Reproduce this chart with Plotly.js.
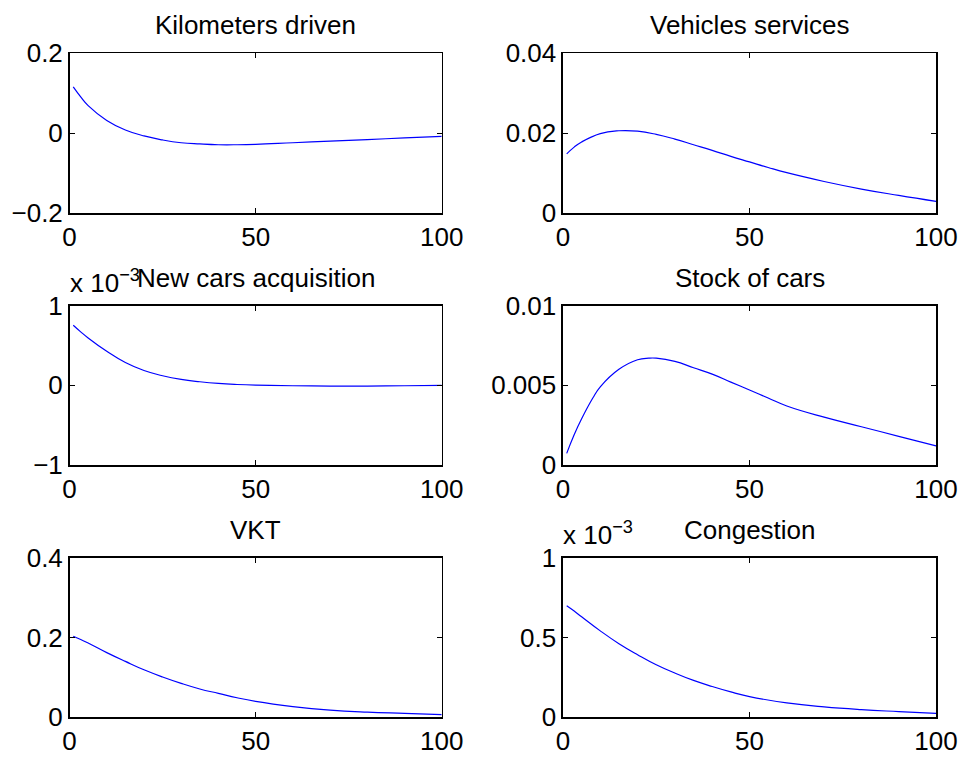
<!DOCTYPE html>
<html>
<head>
<meta charset="utf-8">
<script src="https://cdn.plot.ly/plotly-3.0.1.min.js"></script>
<style>html,body{margin:0;padding:0;background:#fff;}#chart{width:963px;height:757px;}</style>
</head>
<body>
<div id="chart"></div>
<script>
// ---- data ----
const titles = ["Kilometers driven", "Vehicles services", "New cars acquisition", "Stock of cars", "VKT", "Congestion"];

const kmX = [1, 3, 5, 10, 15, 20, 25, 30, 35, 40, 45, 50, 60, 70, 80, 90, 100];
const kmY = [0.116, 0.091, 0.069, 0.032, 0.008, -0.007, -0.017, -0.024, -0.027, -0.029, -0.029, -0.028, -0.024, -0.020, -0.016, -0.012, -0.008];

const vsX = [1, 3, 5, 10, 15, 20, 25, 30, 35, 40, 45, 50, 55, 60, 70, 80, 90, 100];
const vsY = [0.0148, 0.0165, 0.0178, 0.0199, 0.0206, 0.0205, 0.0197, 0.0185, 0.0171, 0.0157, 0.0142, 0.0128, 0.0114, 0.0101, 0.0079, 0.0060, 0.0044, 0.0029];

const ncX = [1, 3, 5, 10, 15, 20, 25, 30, 35, 40, 45, 50, 60, 70, 80, 90, 100];
const ncY = [0.000753, 0.000670, 0.000593, 0.000426, 0.000285, 0.000185, 0.000119, 0.000073, 0.000044, 0.000023, 0.000010, 0.000002, -0.000006, -0.000010, -0.000010, -0.000006, 0.000000];

const scX = [1, 3, 5, 8, 10, 15, 20, 23, 25, 30, 35, 40, 45, 50, 55, 60, 70, 80, 90, 100];
const scY = [0.00073, 0.0019, 0.0029, 0.0042, 0.0049, 0.0060, 0.0066, 0.0067, 0.0067, 0.0065, 0.0061, 0.0057, 0.0052, 0.0047, 0.0042, 0.0037, 0.0030, 0.0024, 0.0018, 0.0012];

const vktX = [1, 3, 5, 10, 15, 20, 25, 30, 35, 40, 45, 50, 60, 70, 80, 90, 100];
const vktY = [0.203, 0.195, 0.186, 0.162, 0.140, 0.119, 0.101, 0.085, 0.071, 0.060, 0.049, 0.040, 0.027, 0.018, 0.013, 0.010, 0.007];

const cgX = [1, 3, 5, 10, 15, 20, 25, 30, 35, 40, 45, 50, 60, 70, 80, 90, 100];
const cgY = [0.000698, 0.000665, 0.000629, 0.000541, 0.000461, 0.000392, 0.000329, 0.000277, 0.000231, 0.000193, 0.000159, 0.000130, 0.000090, 0.000065, 0.000048, 0.000036, 0.000025];

const xTicks = [0, 50, 100];
const xTickText = ["0", "50", "100"];
const yTicks = [
  [-0.2, 0, 0.2], [0, 0.02, 0.04],
  [-0.001, 0, 0.001], [0, 0.005, 0.01],
  [0, 0.2, 0.4], [0, 0.0005, 0.001]
];
const yTickText = [
  ["\u22120.2", "0", "0.2"], ["0", "0.02", "0.04"],
  ["\u22121", "0", "1"], ["0", "0.005", "0.01"],
  ["0", "0.2", "0.4"], ["0", "0.5", "1"]
];
const yRanges = [[-0.2, 0.2], [0, 0.04], [-0.001, 0.001], [0, 0.01], [0, 0.4], [0, 0.001]];
const exponentPanels = [2, 5];

// ---- layout ----
const FONT = "Liberation Sans, Arial, Helvetica, sans-serif";
const FS = 26;
const xDom = [[0.0722, 0.4587], [0.5846, 0.9720]];
const yDom = [[0.7186, 0.9296], [0.3857, 0.5964], [0.0524, 0.2635]];

const xs = [kmX, vsX, ncX, scX, vktX, cgX];
const ys = [kmY, vsY, ncY, scY, vktY, cgY];

const traces = [];
const layout = {
  width: 963, height: 757, autosize: false,
  margin: {l: 0, r: 0, t: 0, b: 0},
  paper_bgcolor: "#fff", plot_bgcolor: "#fff",
  showlegend: false,
  font: {family: FONT, size: FS, color: "#000"},
  annotations: []
};

for (let i = 0; i < 6; i++) {
  const col = i % 2, row = Math.floor(i / 2);
  const ax = i === 0 ? "" : String(i + 1);
  traces.push({
    x: xs[i], y: ys[i], type: "scatter", mode: "lines",
    line: {color: "#0000ff", width: 1.2, shape: "spline", smoothing: 1.3},
    xaxis: "x" + ax, yaxis: "y" + ax, hoverinfo: "none"
  });
  const common = {
    showline: true, linecolor: "#000", linewidth: 1.5, mirror: "ticks",
    ticks: "inside", ticklen: 5, tickwidth: 1, tickcolor: "#000",
    showgrid: false, zeroline: false,
    tickfont: {family: FONT, size: FS, color: "#000"}
  };
  layout["xaxis" + ax] = Object.assign({}, common, {
    domain: xDom[col], range: [0, 100], anchor: "y" + ax,
    tickmode: "array", tickvals: xTicks, ticktext: xTickText
  });
  layout["yaxis" + ax] = Object.assign({}, common, {
    domain: yDom[row], range: yRanges[i], anchor: "x" + ax,
    tickmode: "array", tickvals: yTicks[i], ticktext: yTickText[i]
  });
  layout.annotations.push({
    text: titles[i], xref: "paper", yref: "paper",
    x: (xDom[col][0] + xDom[col][1]) / 2, y: yDom[row][1],
    xanchor: "center", yanchor: "middle", yshift: 28, showarrow: false,
    font: {family: FONT, size: FS, color: "#000"}
  });
  if (exponentPanels.includes(i)) {
    layout.annotations.push({
      text: "x 10<sup>\u22123</sup>", xref: "paper", yref: "paper",
      x: xDom[col][0], y: yDom[row][1],
      xanchor: "left", yanchor: "middle", yshift: 24, xshift: -2, showarrow: false,
      font: {family: FONT, size: FS, color: "#000"}
    });
  }
}

Plotly.newPlot("chart", traces, layout, {staticPlot: true, displayModeBar: false});
</script>
</body>
</html>
